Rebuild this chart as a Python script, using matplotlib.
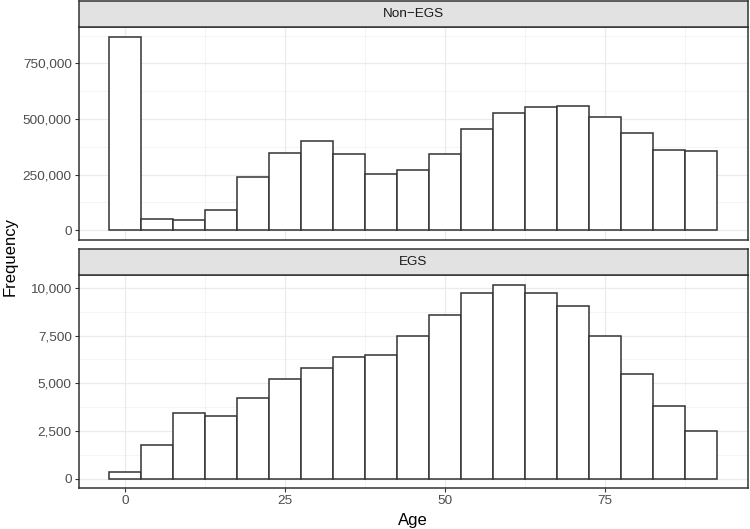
import matplotlib
matplotlib.use('Agg')
import matplotlib.pyplot as plt
from matplotlib.ticker import FuncFormatter

plt.rcParams['font.family'] = ['Liberation Sans', 'DejaVu Sans']

# age bins (centres, width 5)
ages = [0, 5, 10, 15, 20, 25, 30, 35, 40, 45, 50, 55, 60, 65, 70, 75, 80, 85, 90]
non_egs = [870000, 52000, 46000, 91000, 238000, 348000, 400000, 345000, 254000, 269000,
           341000, 457000, 525000, 553000, 558000, 509000, 439000, 361000, 356000]
egs = [366, 1763, 3455, 3281, 4224, 5201, 5794, 6405, 6475, 7469,
       8569, 9738, 10175, 9756, 9058, 7469, 5497, 3805, 2478]

panels = ['Non\u2212EGS', 'EGS']
y_ticks = [[0, 250000, 500000, 750000], [0, 2500, 5000, 7500, 10000]]
y_minor = [[125000, 375000, 625000, 875000], [1250, 3750, 6250, 8750]]
x_ticks = [0, 25, 50, 75]
x_minor = [12.5, 37.5, 62.5, 87.5]

W, H = 750, 529
fig = plt.figure(figsize=(W / 100, H / 100), dpi=100)

def box(l, t, r, b):
    return [l / W, 1 - b / H, (r - l) / W, (b - t) / H]

dark = '#333333'
layout = [(27, 240, 1), (275, 488.3, 249)]
for i, (vals, name) in enumerate(zip([non_egs, egs], panels)):
    top, bot, stop = layout[i]
    ax = fig.add_axes(box(78.7, top, 747.7, bot))
    ax.bar(ages, vals, width=5, facecolor='white', edgecolor=dark, linewidth=1.1, zorder=3)
    ymax = max(vals)
    ax.set_ylim(-0.05 * ymax, 1.05 * ymax)
    ax.set_xlim(-7.25, 97.25)
    ax.set_yticks(y_ticks[i])
    ax.set_yticks(y_minor[i], minor=True)
    ax.set_xticks(x_ticks)
    ax.set_xticks(x_minor, minor=True)
    ax.yaxis.set_major_formatter(FuncFormatter(lambda v, p: f'{int(v):,}'))
    ax.grid(which='major', color='#EBEBEB', linewidth=0.9, zorder=0)
    ax.grid(which='minor', color='#F0F0F0', linewidth=0.5, zorder=0)
    ax.set_axisbelow(True)
    for s in ax.spines.values():
        s.set_color(dark)
        s.set_linewidth(1.1)
    ax.tick_params(which='major', length=3, width=0.8, color=dark,
                   labelsize=9.7, labelcolor='#4D4D4D', pad=2)
    ax.tick_params(which='minor', length=0)
    if i == 0:
        ax.tick_params(axis='x', which='both', length=0, labelbottom=False)
    # strip
    sa = fig.add_axes(box(78.7, stop, 747.7, top))
    sa.set_facecolor('#E2E2E3')
    sa.set_xticks([])
    sa.set_yticks([])
    for s in sa.spines.values():
        s.set_color(dark)
        s.set_linewidth(1.1)
    sa.text(0.5, 0.5, name, ha='center', va='center', fontsize=9.7,
            color='#1A1A1A', transform=sa.transAxes)

fig.text(413 / W, 1 - 520 / H, 'Age', ha='center', va='center', fontsize=12)
fig.text(10 / W, 1 - 256 / H, 'Frequency', ha='center', va='center',
         fontsize=12, rotation=90)

fig.savefig('out.png', dpi=100)
